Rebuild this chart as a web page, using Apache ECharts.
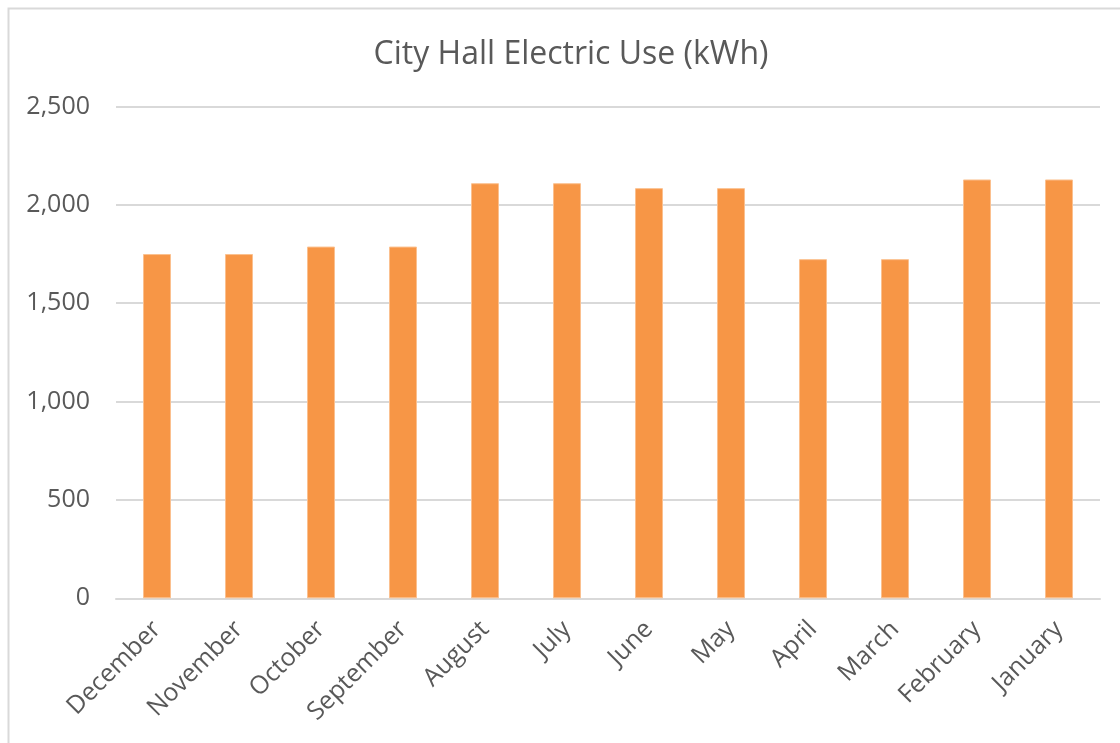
<!DOCTYPE html>
<html>
<head>
<meta charset="utf-8">
<script src="https://cdn.jsdelivr.net/npm/echarts@6/dist/echarts.min.js"></script>
<style>
    html, body { margin: 0; padding: 0; background: #fff; }
    #chart { width: 1120px; height: 743px; }
</style>
</head>
<body>
<div id="chart"></div>
<script>
    // months as shown on the axis
    var months = ['December', 'November', 'October', 'September', 'August', 'July',
        'June', 'May', 'April', 'March', 'February', 'January'];
    // electric use (kWh)
    var kwh = [1750, 1750, 1788, 1788, 2110, 2110, 2085, 2085, 1724, 1724, 2129, 2129];

    var chart = echarts.init(document.getElementById('chart'));
    var textColor = '#595959';
    var font = '"Open Sans", "DejaVu Sans", sans-serif';

    var option = {
        backgroundColor: '#fff',
        animation: false,
        title: {
            text: 'City Hall Electric Use (kWh)',
            left: 566,
            top: 34,
            textAlign: 'center',
            textStyle: {
                color: textColor,
                fontFamily: font,
                fontSize: 32,
                fontWeight: 'normal'
            }
        },
        graphic: [
            {
                // chart frame, cropped on the right and bottom
                type: 'rect',
                shape: {x: 8.5, y: 8.5, width: 1200, height: 800},
                style: {fill: 'none', stroke: '#d9d9d9', lineWidth: 2},
                silent: true
            }
        ],
        grid: {
            left: 116,
            right: 20,
            top: 106.5,
            bottom: 144.7
        },
        xAxis: {
            type: 'category',
            data: months,
            axisLine: {lineStyle: {color: '#d9d9d9', width: 2}},
            axisTick: {show: false},
            axisLabel: {
                rotate: 45,
                margin: 27,
                color: textColor,
                fontFamily: font,
                fontSize: 25
            }
        },
        yAxis: {
            type: 'value',
            min: 0,
            max: 2500,
            interval: 500,
            axisLine: {show: false},
            axisTick: {show: false},
            splitLine: {lineStyle: {color: '#d9d9d9', width: 2}},
            axisLabel: {
                margin: 26,
                color: textColor,
                fontFamily: font,
                fontSize: 25,
                formatter: function (v) {
                    return v.toLocaleString('en-US');
                }
            }
        },
        series: [
            {
                type: 'bar',
                data: kwh,
                barWidth: 28,
                itemStyle: {
                    color: '#f79646',
                    borderColor: '#fbc08f',
                    borderWidth: 1
                }
            }
        ]
    };

    chart.setOption(option);
</script>
</body>
</html>
